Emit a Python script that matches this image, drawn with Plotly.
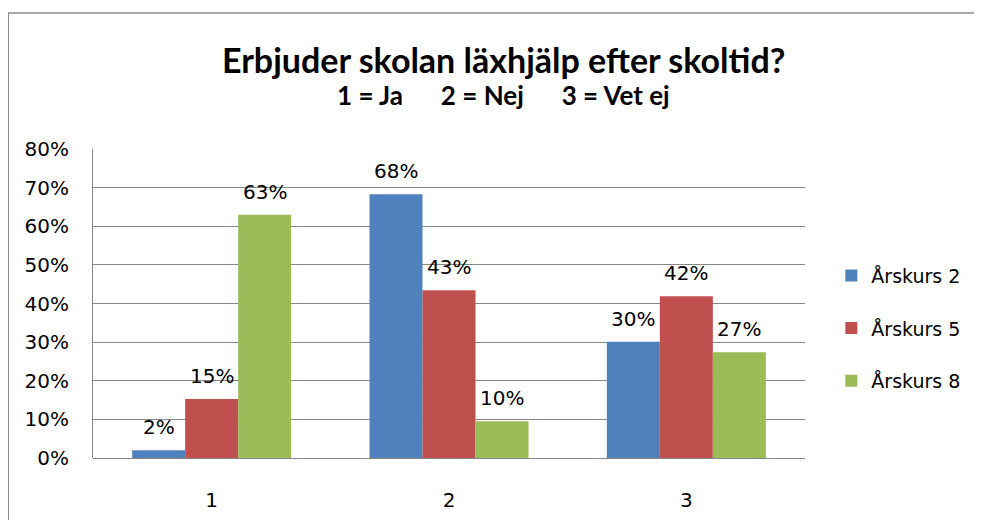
import plotly.graph_objects as go

categories = ["1", "2", "3"]
series_names = ["Årskurs 2", "Årskurs 5", "Årskurs 8"]
arskurs_2 = [2.0, 68.3, 30.1]
arskurs_5 = [15.3, 43.4, 41.9]
arskurs_8 = [63.0, 9.5, 27.4]
y_ticks = [0, 10, 20, 30, 40, 50, 60, 70, 80]

colors = ["#4F81BD", "#C0504D", "#9BBB59"]
text_font = "DejaVu Sans, sans-serif"
title_font = "Lato, sans-serif"

# the page body adds an 8px offset, so the figure is 8px smaller
# plot area in figure pixels: x 85..797, y 141..450
plot_w = 712
bargap = 0.33
bar_px = plot_w / len(categories) * (1 - bargap) / len(series_names)

fig = go.Figure()
for i, (name, values) in enumerate(zip(series_names, [arskurs_2, arskurs_5, arskurs_8])):
    fig.add_trace(go.Bar(
        x=categories, y=values, name=name,
        marker=dict(color=colors[i], line=dict(width=0)),
        legendgroup=name,
    ))
    # value labels above the bars (x given as category index)
    for j, v in enumerate(values):
        fig.add_annotation(x=j, y=v, xref="x", yref="y",
                           text=f"{v:.0f}%", showarrow=False,
                           xshift=(i - 1) * bar_px, yshift=23,
                           xanchor="center", yanchor="middle",
                           font=dict(family=text_font, size=20, color="black"))

fig.update_layout(
    width=974, height=512,
    margin=dict(l=85, r=177, t=141, b=62, autoexpand=False),
    paper_bgcolor="white", plot_bgcolor="white",
    font=dict(family=text_font, size=20, color="black"),
    barmode="group", bargap=bargap, bargroupgap=0,
    showlegend=True,
    legend=dict(x=1.037, y=0.419, xanchor="left", yanchor="middle",
                font=dict(size=19), tracegroupgap=25, itemwidth=30),
)
fig.update_xaxes(type="category", range=[-0.5, 2.5],
                 showgrid=False, showline=False, ticks="", ticklabelstandoff=28,
                 automargin=False, tickfont=dict(size=20))
fig.update_yaxes(range=[0, 80], tickvals=y_ticks, ticktext=[f"{v}%" for v in y_ticks],
                 showgrid=True, gridcolor="#878787", gridwidth=1,
                 zeroline=True, zerolinecolor="#878787", zerolinewidth=1,
                 showline=True, linecolor="#878787", linewidth=1,
                 ticks="outside", ticklen=0, ticklabelstandoff=19,
                 automargin=False, tickfont=dict(size=20))

fig.add_annotation(text="<b>Erbjuder skolan läxhjälp efter skoltid?</b>",
                   xref="paper", yref="paper", x=0.5765, y=1.29,
                   xanchor="center", yanchor="middle",
                   showarrow=False, font=dict(family=title_font, size=34, color="black"))
fig.add_annotation(text="<b>1 = Ja      2 = Nej      3 = Vet ej</b>",
                   xref="paper", yref="paper", x=0.5765, y=1.176,
                   xanchor="center", yanchor="middle",
                   showarrow=False, font=dict(family=title_font, size=26, color="black"))

# outer chart border
fig.add_shape(type="rect", xref="paper", yref="paper",
              x0=-0.119, x1=1.245, y0=-0.22, y1=1.44,
              line=dict(color="#8C8C8C", width=1.5), layer="below")

fig.write_html("out.html")
